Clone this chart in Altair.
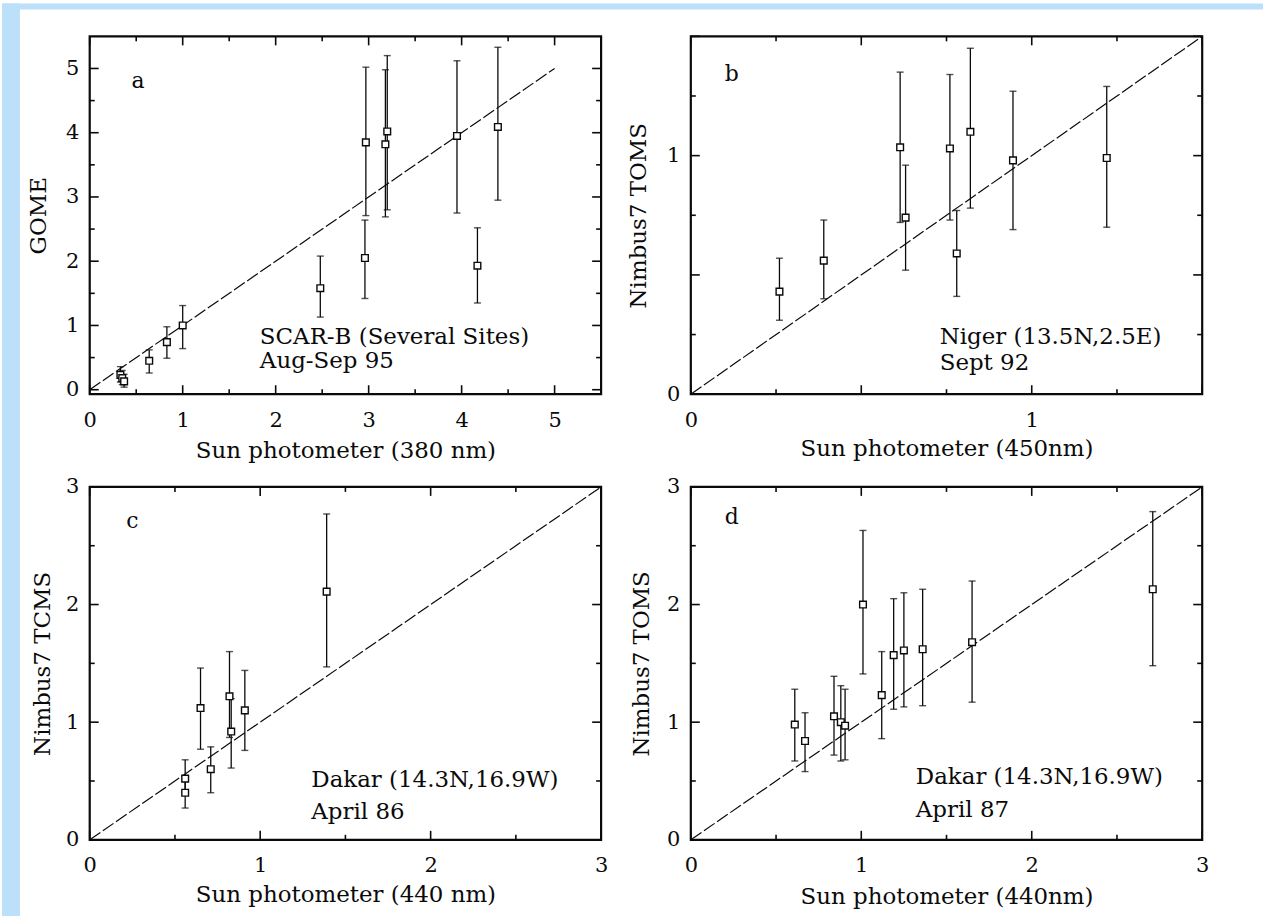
import altair as alt
import pandas as pd

FONT = "DejaVu Serif"
INK = "#0a0a0a"
BLUE = "#BCDFFA"

# ---------------- data ----------------
# panel a : GOME vs Sun photometer (380 nm)
a_x = [0.33, 0.35, 0.37, 0.64, 0.83, 1.00, 2.48, 2.96, 2.97, 3.18, 3.20, 3.95, 4.17, 4.39]
a_y = [0.23, 0.18, 0.13, 0.45, 0.74, 1.00, 1.58, 2.05, 3.85, 3.82, 4.02, 3.95, 1.93, 4.09]
a_lo = [0.12, 0.08, 0.04, 0.26, 0.49, 0.64, 1.13, 1.42, 2.71, 2.69, 2.80, 2.75, 1.35, 2.95]
a_hi = [0.36, 0.30, 0.24, 0.62, 0.98, 1.31, 2.08, 2.64, 5.02, 4.98, 5.20, 5.12, 2.52, 5.33]

# panel b : Nimbus7 TOMS vs Sun photometer (450nm)
b_x = [0.26, 0.39, 0.614, 0.63, 0.76, 0.78, 0.82, 0.945, 1.22]
b_y = [0.43, 0.56, 1.035, 0.74, 1.03, 0.59, 1.10, 0.98, 0.99]
b_lo = [0.31, 0.40, 0.72, 0.52, 0.73, 0.41, 0.78, 0.69, 0.70]
b_hi = [0.57, 0.73, 1.35, 0.96, 1.34, 0.77, 1.45, 1.27, 1.29]

# panel c : Nimbus7 TCMS vs Sun photometer (440 nm)
c_x = [0.56, 0.56, 0.65, 0.71, 0.82, 0.83, 0.91, 1.39]
c_y = [0.52, 0.40, 1.12, 0.60, 1.22, 0.92, 1.10, 2.11]
c_lo = [0.40, 0.27, 0.77, 0.40, 0.87, 0.61, 0.76, 1.47]
c_hi = [0.68, 0.54, 1.46, 0.79, 1.60, 1.20, 1.44, 2.77]

# panel d : Nimbus7 TOMS vs Sun photometer (440nm)
d_x = [0.61, 0.67, 0.84, 0.88, 0.905, 1.01, 1.12, 1.19, 1.25, 1.36, 1.65, 2.71]
d_y = [0.98, 0.84, 1.05, 1.00, 0.97, 2.00, 1.23, 1.57, 1.61, 1.62, 1.68, 2.13]
d_lo = [0.67, 0.58, 0.72, 0.67, 0.68, 1.41, 0.86, 1.11, 1.13, 1.14, 1.17, 1.48]
d_hi = [1.28, 1.08, 1.39, 1.31, 1.28, 2.63, 1.60, 2.05, 2.10, 2.13, 2.20, 2.79]

# axes / ticks
a_xmajor = [0, 1, 2, 3, 4, 5]
a_xminor = [0.5, 1.5, 2.5, 3.5, 4.5]
a_ymajor = [0, 1, 2, 3, 4, 5]
a_yminor = [0.5, 1.5, 2.5, 3.5, 4.5]
b_major = [0, 0.5, 1, 1.5]
b_minor = [0.25, 0.75, 1.25]
b_labels = [0, 1]
cd_major = [0, 1, 2, 3]
cd_minor = [0.5, 1.5, 2.5]

titles = {
    "a": ("Sun photometer (380 nm)", "GOME"),
    "b": ("Sun photometer (450nm)", "Nimbus7 TOMS"),
    "c": ("Sun photometer (440 nm)", "Nimbus7 TCMS"),
    "d": ("Sun photometer (440nm)", "Nimbus7 TOMS"),
}
notes = {
    "a": ["SCAR-B (Several Sites)", "Aug-Sep 95"],
    "b": ["Niger (13.5N,2.5E)", "Sept 92"],
    "c": ["Dakar (14.3N,16.9W)", "April 86"],
    "d": ["Dakar (14.3N,16.9W)", "April 87"],
}
# annotation anchor positions in data units (x, y line1, y line2)
note_pos = {"a": (1.83, 0.82, 0.45), "b": (0.73, 0.24, 0.13),
            "c": (1.30, 0.51, 0.24), "d": (1.32, 0.53, 0.25)}
letter_pos = {"a": (0.52, 4.80), "b": (0.12, 1.34), "c": (0.25, 2.71), "d": (0.24, 2.74)}
one_to_one = {"a": [0, 5], "b": [0, 1.5], "c": [0, 3], "d": [0, 3]}

W = 513
H_TOP = 359
H_BOT = 354


def panel(key, xs, ys, lo, hi, xdom, ydom, xmaj, xmin_, ymaj, ymin_, xlab, ylab,
          H, ytitle_x, xtitle_y, extra=None):
    xtitle, ytitle = titles[key]
    xs_ = alt.Scale(domain=xdom, nice=False, zero=False)
    ys_ = alt.Scale(domain=ydom, nice=False, zero=False)
    xax = alt.Axis(values=xlab, ticks=False, domain=False, grid=False,
                   labelPadding=26, labelBaseline="middle", labelFlush=False,
                   labelOverlap=False, format="~g",
                   titleX=W / 2, titleY=xtitle_y, titleBaseline="middle")
    yax = alt.Axis(values=ylab, ticks=False, domain=False, grid=False,
                   labelPadding=11, labelFlush=False, labelOverlap=False, format="~g",
                   titleX=ytitle_x, titleY=H / 2, titleBaseline="middle")

    def X(f):
        return alt.X(f, type="quantitative", scale=xs_, axis=xax, title=xtitle)

    def Y(f):
        return alt.Y(f, type="quantitative", scale=ys_, axis=yax, title=ytitle)

    df = pd.DataFrame({"x": xs, "y": ys, "lo": lo, "hi": hi})
    line_df = pd.DataFrame({"x": one_to_one[key], "y": one_to_one[key]})

    layers = []
    # 1:1 line
    layers.append(alt.Chart(line_df).mark_line(color=INK, strokeWidth=1.2, strokeDash=[13, 3])
                  .encode(x=X("x"), y=Y("y")))
    # error bars
    layers.append(alt.Chart(df).mark_rule(color=INK, strokeWidth=1.3)
                  .encode(x=X("x"), y=Y("lo"), y2="hi"))
    layers.append(alt.Chart(df).mark_tick(orient="horizontal", size=7, thickness=1.4, color=INK)
                  .encode(x=X("x"), y=Y("lo")))
    layers.append(alt.Chart(df).mark_tick(orient="horizontal", size=7, thickness=1.4, color=INK)
                  .encode(x=X("x"), y=Y("hi")))
    # open squares
    layers.append(alt.Chart(df).mark_square(filled=False, size=45, color=INK, strokeWidth=1.4,
                                            opacity=1, fill="white", fillOpacity=1)
                  .encode(x=X("x"), y=Y("y")))

    # inward ticks on all four sides
    for vals, L in ((xmaj, 9), (xmin_, 5)):
        tdf = pd.DataFrame({"v": vals})
        layers.append(alt.Chart(tdf).mark_rule(color=INK, strokeWidth=1.6)
                      .encode(x=X("v"), y=alt.value(H), y2=alt.value(H - L)))
        layers.append(alt.Chart(tdf).mark_rule(color=INK, strokeWidth=1.6)
                      .encode(x=X("v"), y=alt.value(0), y2=alt.value(L)))
    for vals, L in ((ymaj, 9), (ymin_, 5)):
        tdf = pd.DataFrame({"v": vals})
        layers.append(alt.Chart(tdf).mark_rule(color=INK, strokeWidth=1.6)
                      .encode(y=Y("v"), x=alt.value(0), x2=alt.value(L)))
        layers.append(alt.Chart(tdf).mark_rule(color=INK, strokeWidth=1.6)
                      .encode(y=Y("v"), x=alt.value(W), x2=alt.value(W - L)))

    # panel letter
    lx, ly = letter_pos[key]
    layers.append(alt.Chart(pd.DataFrame({"x": [lx], "y": [ly], "t": [key]}))
                  .mark_text(font=FONT, fontSize=22, color=INK, align="center", baseline="middle")
                  .encode(x=X("x"), y=Y("y"), text="t:N"))
    # annotation
    nx, ny1, ny2 = note_pos[key]
    layers.append(alt.Chart(pd.DataFrame({"x": [nx, nx], "y": [ny1, ny2], "t": notes[key]}))
                  .mark_text(font=FONT, fontSize=23, color=INK, align="left", baseline="middle")
                  .encode(x=X("x"), y=Y("y"), text="t:N"))
    if extra is not None:
        layers = extra + layers
    return alt.layer(*layers).properties(width=W, height=H)


# light-blue page border (drawn from panel a, in pixels relative to its plot origin)
frame = pd.DataFrame({"k": [0]})
blue_left = alt.Chart(frame).mark_rect(color=BLUE).encode(
    x=alt.value(-88), x2=alt.value(-70), y=alt.value(-33), y2=alt.value(883))
blue_top = alt.Chart(frame).mark_rect(color=BLUE).encode(
    x=alt.value(-88), x2=alt.value(1177), y=alt.value(-33), y2=alt.value(-27))

pa = panel("a", a_x, a_y, a_lo, a_hi, [0, 5.5], [-0.07, 5.5], a_xmajor, a_xminor,
           a_ymajor, a_yminor, a_xmajor, a_ymajor, H_TOP, -51, 56,
           extra=[blue_left, blue_top])
pb = panel("b", b_x, b_y, b_lo, b_hi, [0, 1.5], [0, 1.5], b_major, b_minor,
           b_major, b_minor, b_labels, b_labels, H_TOP, -52, 54)
pc = panel("c", c_x, c_y, c_lo, c_hi, [0, 3], [0, 3], cd_major, cd_minor,
           cd_major, cd_minor, cd_major, cd_major, H_BOT, -47, 55)
pd_ = panel("d", d_x, d_y, d_lo, d_hi, [0, 3], [0, 3], cd_major, cd_minor,
            cd_major, cd_minor, cd_major, cd_major, H_BOT, -49, 57)

chart = (alt.concat(pa, pb, pc, pd_, columns=2, spacing={"row": 93, "column": 90},
                    bounds="flush")
         .properties(padding=0, background="white")
         .configure_view(stroke=INK, strokeWidth=2.2, fill="white")
         .configure_axis(labelFont=FONT, titleFont=FONT, labelFontSize=21, titleFontSize=23,
                         labelColor=INK, titleColor=INK, titleFontWeight="normal",
                         labelFontWeight="normal"))

chart.save("out.html", embed_options={"renderer": "svg", "actions": False})
